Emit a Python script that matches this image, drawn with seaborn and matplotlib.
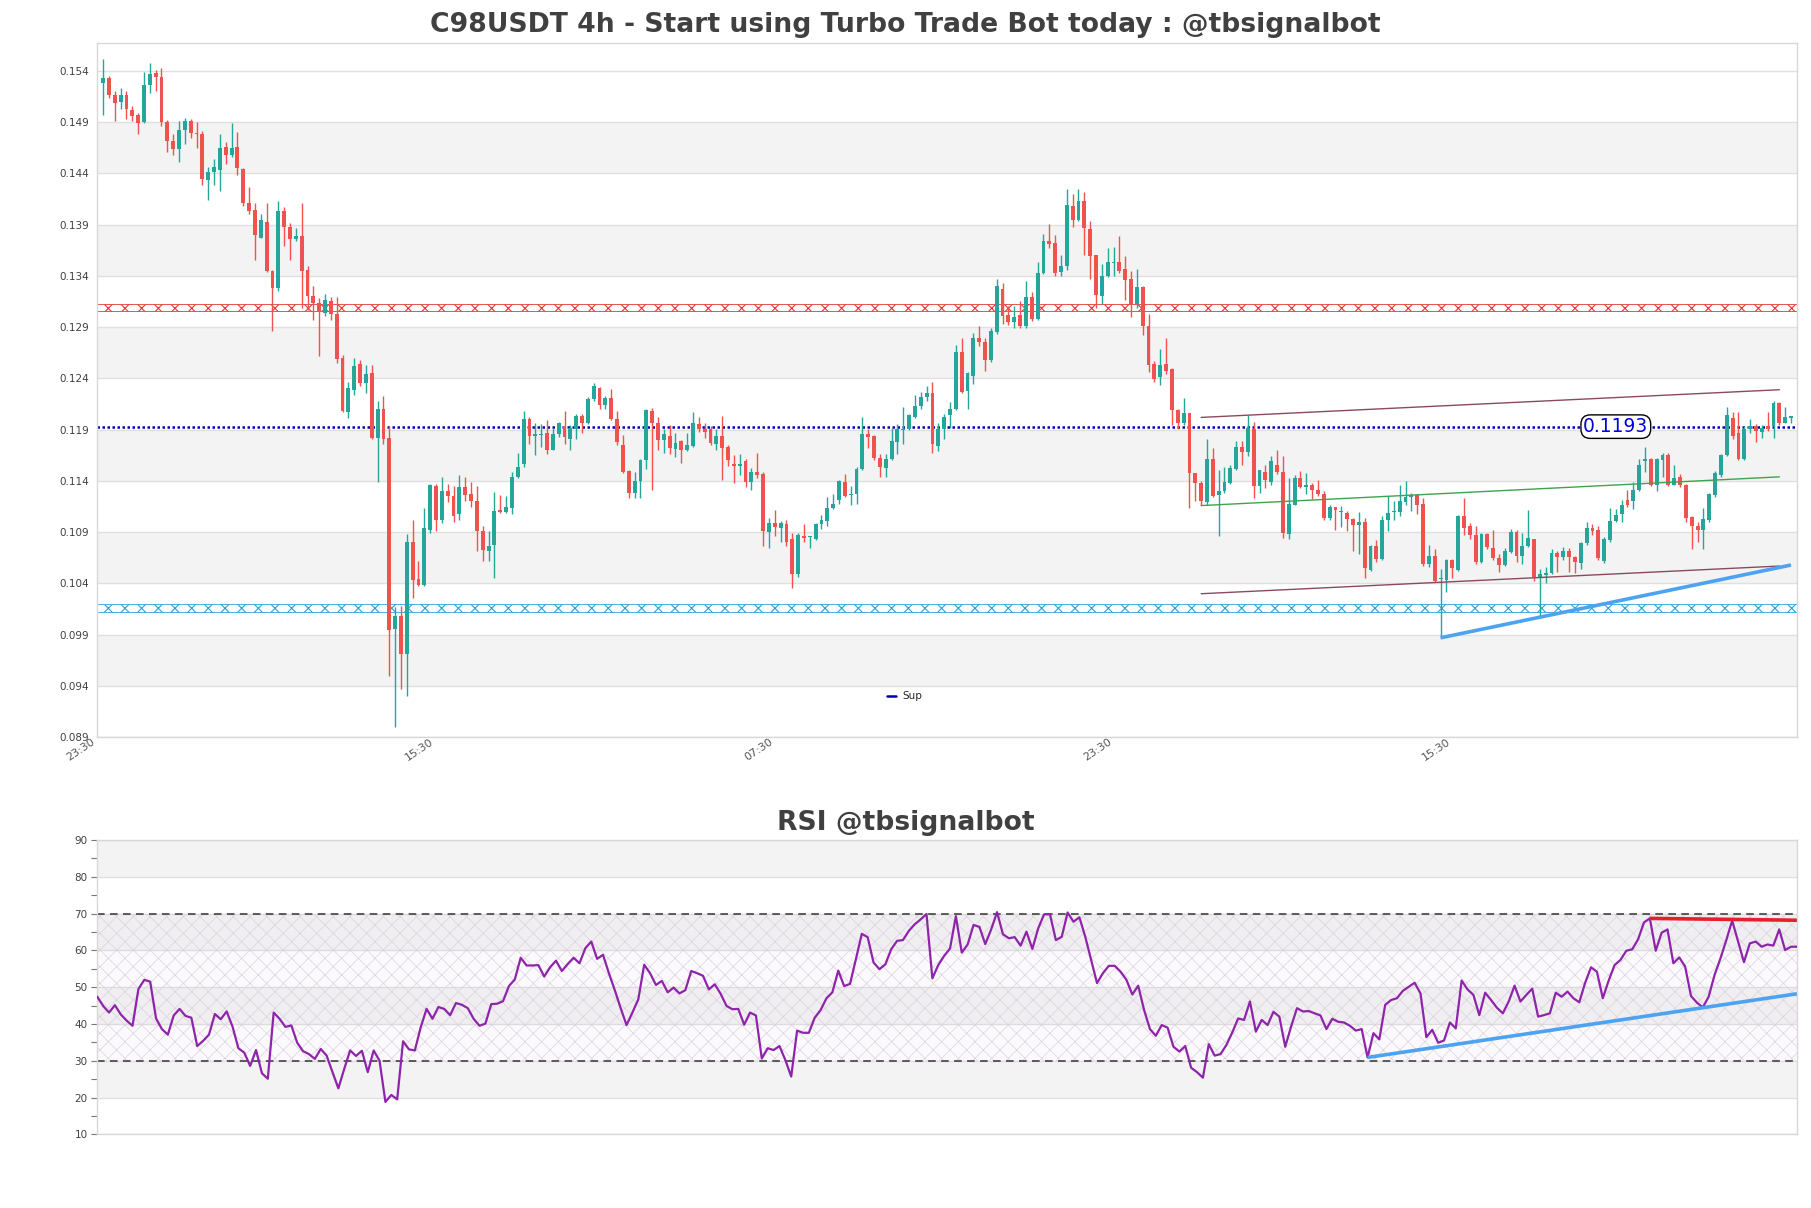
import numpy as np
import pandas as pd
import matplotlib
matplotlib.use("Agg")
import matplotlib.pyplot as plt
import matplotlib.transforms as mtransforms
import seaborn as sns
from matplotlib.lines import Line2D

# ---------------------------------------------------------
# DATA  (candle prices in units of 0.0001 USDT, 4h candles)
# ---------------------------------------------------------
open_e4 = [
    1528, 1533, 1517, 1510, 1517, 1502, 1497, 1490, 1526, 1538,
    1534, 1490, 1472, 1464, 1482, 1491, 1479, 1478, 1434, 1441,
    1443, 1466, 1458, 1466, 1444, 1411, 1404, 1377, 1393, 1345,
    1328, 1403, 1388, 1376, 1379, 1346, 1320, 1314, 1304, 1316,
    1303, 1260, 1207, 1229, 1254, 1236, 1245, 1182, 1210, 1182,
    996, 1008, 971, 1080, 1044, 1039, 1092, 1135, 1102, 1130,
    1125, 1108, 1134, 1127, 1120, 1091, 1072, 1078, 1112, 1110,
    1114, 1144, 1157, 1200, 1184, 1185, 1187, 1170, 1186, 1194,
    1181, 1191, 1203, 1197, 1220, 1231, 1214, 1221, 1200, 1175,
    1150, 1128, 1140, 1160, 1208, 1197, 1180, 1184, 1171, 1179,
    1170, 1174, 1196, 1191, 1191, 1176, 1184, 1173, 1157, 1155,
    1159, 1139, 1149, 1147, 1090, 1099, 1094, 1098, 1083, 1049,
    1086, 1085, 1083, 1098, 1101, 1114, 1121, 1139, 1126, 1127,
    1152, 1186, 1184, 1162, 1153, 1161, 1178, 1190, 1191, 1202,
    1213, 1222, 1226, 1174, 1191, 1204, 1210, 1266, 1228, 1242,
    1279, 1276, 1258, 1285, 1327, 1302, 1295, 1302, 1291, 1319,
    1298, 1343, 1374, 1372, 1344, 1350, 1408, 1395, 1413, 1386,
    1360, 1320, 1340, 1353, 1354, 1347, 1337, 1313, 1329, 1291,
    1254, 1241, 1254, 1249, 1209, 1197, 1206, 1148, 1138, 1119,
    1161, 1126, 1130, 1138, 1152, 1173, 1168, 1191, 1135, 1149,
    1139, 1156, 1149, 1088, 1117, 1143, 1134, 1136, 1131, 1127,
    1104, 1115, 1110, 1109, 1103, 1097, 1100, 1053, 1077, 1064,
    1102, 1110, 1110, 1119, 1124, 1126, 1118, 1059, 1067, 1044,
    1043, 1063, 1053, 1106, 1096, 1087, 1061, 1088, 1075, 1065,
    1058, 1071, 1090, 1067, 1077, 1083, 1046, 1048, 1050, 1070,
    1066, 1072, 1066, 1060, 1079, 1094, 1092, 1062, 1082, 1101,
    1108, 1121, 1120, 1131, 1159, 1161, 1136, 1160, 1165, 1136,
    1144, 1136, 1105, 1096, 1092, 1102, 1126, 1146, 1165, 1201,
    1187, 1161, 1191, 1194, 1188, 1194, 1194, 1216, 1197, 1201,
]
close_e4 = [
    1533, 1517, 1509, 1517, 1503, 1496, 1489, 1526, 1537, 1534,
    1490, 1472, 1464, 1482, 1491, 1479, 1478, 1435, 1441, 1446,
    1465, 1458, 1465, 1445, 1411, 1403, 1380, 1395, 1345, 1328,
    1403, 1388, 1376, 1379, 1345, 1320, 1314, 1306, 1317, 1303,
    1259, 1208, 1231, 1252, 1236, 1244, 1182, 1210, 1181, 995,
    1008, 971, 1080, 1043, 1039, 1094, 1136, 1102, 1130, 1125,
    1106, 1134, 1126, 1120, 1091, 1073, 1077, 1111, 1110, 1115,
    1144, 1154, 1200, 1184, 1186, 1186, 1170, 1186, 1197, 1183,
    1192, 1203, 1197, 1220, 1233, 1214, 1221, 1200, 1178, 1149,
    1128, 1140, 1160, 1209, 1197, 1180, 1186, 1172, 1177, 1170,
    1175, 1197, 1191, 1188, 1177, 1184, 1172, 1160, 1155, 1157,
    1139, 1149, 1146, 1091, 1099, 1095, 1099, 1080, 1049, 1087,
    1084, 1086, 1098, 1102, 1114, 1118, 1140, 1125, 1127, 1152,
    1186, 1183, 1162, 1154, 1161, 1179, 1191, 1191, 1204, 1213,
    1222, 1226, 1176, 1191, 1202, 1210, 1266, 1227, 1245, 1279,
    1276, 1258, 1286, 1330, 1301, 1295, 1300, 1291, 1319, 1298,
    1343, 1374, 1371, 1343, 1350, 1409, 1395, 1413, 1387, 1359,
    1321, 1340, 1354, 1354, 1345, 1336, 1313, 1329, 1291, 1253,
    1239, 1253, 1247, 1209, 1197, 1206, 1148, 1138, 1120, 1161,
    1125, 1130, 1139, 1153, 1173, 1168, 1192, 1135, 1151, 1141,
    1159, 1149, 1089, 1118, 1143, 1134, 1136, 1131, 1127, 1104,
    1115, 1112, 1111, 1103, 1097, 1100, 1055, 1077, 1064, 1102,
    1109, 1111, 1120, 1124, 1126, 1117, 1059, 1067, 1042, 1045,
    1063, 1055, 1106, 1094, 1087, 1061, 1088, 1076, 1065, 1058,
    1072, 1090, 1067, 1077, 1084, 1046, 1049, 1050, 1070, 1066,
    1072, 1066, 1061, 1079, 1094, 1091, 1065, 1083, 1101, 1107,
    1117, 1117, 1131, 1156, 1161, 1136, 1161, 1165, 1136, 1143,
    1136, 1104, 1096, 1092, 1103, 1127, 1148, 1165, 1204, 1184,
    1161, 1191, 1194, 1189, 1192, 1191, 1216, 1197, 1202, 1203,
]
high_e4 = [
    1552, 1535, 1520, 1523, 1520, 1506, 1499, 1539, 1548, 1541,
    1543, 1492, 1478, 1491, 1494, 1493, 1490, 1481, 1446, 1454,
    1478, 1471, 1489, 1480, 1445, 1427, 1411, 1400, 1411, 1346,
    1413, 1407, 1392, 1387, 1411, 1350, 1330, 1318, 1322, 1319,
    1319, 1263, 1237, 1260, 1258, 1253, 1253, 1218, 1223, 1194,
    1017, 1018, 1088, 1102, 1062, 1114, 1137, 1137, 1144, 1137,
    1135, 1146, 1144, 1139, 1135, 1096, 1091, 1129, 1126, 1125,
    1149, 1167, 1208, 1202, 1197, 1196, 1199, 1192, 1198, 1208,
    1195, 1205, 1205, 1222, 1236, 1232, 1223, 1230, 1208, 1185,
    1151, 1149, 1161, 1210, 1211, 1202, 1191, 1195, 1187, 1180,
    1187, 1207, 1202, 1197, 1194, 1191, 1203, 1175, 1165, 1166,
    1161, 1153, 1167, 1149, 1104, 1112, 1101, 1102, 1089, 1089,
    1098, 1086, 1099, 1107, 1124, 1127, 1141, 1147, 1135, 1154,
    1202, 1191, 1185, 1166, 1166, 1192, 1196, 1212, 1205, 1224,
    1227, 1233, 1237, 1197, 1205, 1217, 1273, 1279, 1246, 1284,
    1291, 1279, 1289, 1337, 1333, 1311, 1311, 1316, 1335, 1324,
    1354, 1381, 1391, 1380, 1360, 1425, 1420, 1425, 1422, 1394,
    1360, 1352, 1367, 1368, 1379, 1359, 1345, 1347, 1330, 1303,
    1257, 1269, 1279, 1250, 1210, 1221, 1206, 1148, 1140, 1181,
    1172, 1151, 1154, 1156, 1179, 1179, 1204, 1198, 1151, 1156,
    1164, 1170, 1164, 1143, 1146, 1150, 1148, 1138, 1141, 1130,
    1117, 1115, 1116, 1111, 1104, 1110, 1104, 1078, 1082, 1106,
    1125, 1120, 1136, 1140, 1128, 1127, 1123, 1078, 1074, 1054,
    1064, 1064, 1107, 1123, 1099, 1096, 1089, 1089, 1092, 1069,
    1075, 1093, 1092, 1089, 1112, 1083, 1054, 1056, 1074, 1072,
    1076, 1075, 1067, 1080, 1100, 1098, 1096, 1085, 1114, 1113,
    1121, 1131, 1139, 1161, 1173, 1162, 1162, 1167, 1167, 1156,
    1147, 1137, 1106, 1100, 1114, 1128, 1150, 1166, 1212, 1207,
    1207, 1194, 1200, 1196, 1195, 1207, 1218, 1217, 1212, 1203,
]
low_e4 = [
    1497, 1514, 1491, 1503, 1493, 1491, 1478, 1489, 1518, 1520,
    1486, 1461, 1458, 1451, 1469, 1475, 1465, 1429, 1414, 1429,
    1423, 1449, 1456, 1438, 1408, 1400, 1356, 1377, 1344, 1286,
    1325, 1369, 1356, 1374, 1309, 1307, 1297, 1262, 1301, 1297,
    1255, 1207, 1201, 1224, 1233, 1226, 1181, 1139, 1176, 950,
    900, 937, 930, 1026, 1038, 1038, 1089, 1091, 1099, 1119,
    1100, 1102, 1120, 1115, 1072, 1062, 1062, 1045, 1109, 1109,
    1108, 1143, 1154, 1176, 1165, 1173, 1166, 1170, 1183, 1176,
    1170, 1181, 1187, 1196, 1218, 1210, 1210, 1199, 1175, 1148,
    1123, 1123, 1123, 1152, 1131, 1170, 1167, 1166, 1163, 1158,
    1169, 1173, 1188, 1182, 1175, 1170, 1141, 1155, 1138, 1146,
    1134, 1131, 1143, 1077, 1075, 1086, 1080, 1077, 1036, 1046,
    1080, 1075, 1082, 1093, 1096, 1113, 1118, 1124, 1117, 1118,
    1151, 1172, 1160, 1144, 1144, 1160, 1166, 1176, 1190, 1201,
    1210, 1218, 1167, 1169, 1181, 1192, 1209, 1226, 1210, 1235,
    1272, 1247, 1256, 1283, 1293, 1292, 1289, 1289, 1289, 1296,
    1297, 1342, 1367, 1340, 1340, 1346, 1388, 1394, 1360, 1337,
    1309, 1313, 1339, 1340, 1343, 1317, 1300, 1309, 1282, 1246,
    1237, 1234, 1244, 1195, 1191, 1195, 1114, 1120, 1117, 1117,
    1124, 1086, 1128, 1137, 1151, 1156, 1164, 1123, 1128, 1133,
    1136, 1147, 1084, 1083, 1117, 1133, 1127, 1122, 1125, 1102,
    1102, 1092, 1095, 1091, 1072, 1069, 1045, 1052, 1061, 1063,
    1091, 1102, 1106, 1117, 1111, 1108, 1057, 1056, 1041, 987,
    1032, 1045, 1052, 1087, 1083, 1059, 1060, 1074, 1063, 1051,
    1057, 1070, 1061, 1059, 1076, 1042, 1007, 1040, 1049, 1051,
    1063, 1051, 1050, 1054, 1078, 1087, 1063, 1060, 1080, 1100,
    1100, 1115, 1113, 1130, 1149, 1135, 1130, 1144, 1135, 1136,
    1134, 1100, 1074, 1080, 1074, 1100, 1124, 1144, 1164, 1181,
    1160, 1160, 1187, 1178, 1182, 1189, 1182, 1195, 1197, 1197,
]

rsi_vals = [
    47.4, 44.9, 43.1, 45.1, 42.6, 40.9, 39.5, 49.5, 52.0, 51.5,
    41.5, 38.6, 37.1, 42.3, 44.1, 42.2, 41.7, 34.0, 35.4, 37.1,
    42.7, 41.3, 43.4, 39.3, 33.4, 32.2, 28.6, 32.9, 26.6, 25.1,
    43.1, 41.4, 39.2, 39.6, 34.9, 32.6, 31.8, 30.5, 33.2, 31.4,
    26.9, 22.5, 27.8, 32.8, 31.3, 32.7, 26.9, 32.8, 30.0, 18.8,
    20.7, 19.5, 35.3, 33.1, 32.8, 39.1, 44.1, 41.4, 44.6, 44.1,
    42.4, 45.7, 45.2, 44.3, 41.4, 39.5, 40.1, 45.4, 45.5, 46.2,
    50.3, 52.1, 58.0, 55.9, 55.9, 56.0, 52.9, 55.4, 57.2, 54.4,
    56.3, 58.0, 56.5, 60.6, 62.4, 57.7, 58.8, 53.8, 49.2, 44.3,
    39.7, 43.1, 46.7, 56.1, 53.8, 50.6, 51.7, 48.6, 49.9, 48.3,
    49.2, 54.4, 53.8, 53.1, 49.4, 50.8, 48.2, 44.9, 44.0, 44.1,
    39.8, 43.1, 42.3, 30.6, 33.4, 32.9, 34.0, 30.2, 25.7, 38.2,
    37.6, 37.6, 41.7, 43.8, 47.0, 48.6, 54.5, 50.3, 50.9, 57.6,
    64.5, 63.6, 56.7, 54.9, 56.2, 60.3, 62.6, 62.8, 65.3, 67.1,
    68.4, 69.9, 52.4, 56.0, 58.5, 60.5, 69.3, 59.4, 61.6, 66.9,
    66.4, 61.7, 65.7, 70.4, 64.4, 63.3, 63.6, 61.3, 65.1, 60.4,
    66.0, 69.8, 69.8, 62.8, 63.7, 70.3, 67.8, 69.0, 63.7, 57.4,
    51.1, 53.8, 55.8, 55.8, 54.2, 52.0, 48.0, 50.4, 43.8, 38.6,
    36.8, 39.7, 39.0, 33.8, 32.5, 34.0, 28.1, 26.9, 25.4, 34.5,
    31.4, 31.8, 34.3, 37.7, 41.5, 41.1, 46.1, 37.9, 41.1, 39.7,
    43.3, 42.0, 33.8, 39.3, 44.3, 43.4, 43.5, 42.9, 42.3, 38.6,
    41.4, 40.6, 40.4, 39.5, 38.2, 38.6, 30.9, 37.5, 35.8, 45.2,
    46.5, 47.0, 49.0, 50.1, 51.2, 48.3, 36.4, 38.4, 34.9, 35.5,
    40.4, 38.8, 51.8, 49.4, 47.9, 42.4, 48.5, 46.5, 44.4, 42.9,
    46.1, 50.4, 46.1, 47.9, 49.6, 42.0, 42.4, 42.9, 48.5, 47.4,
    48.8, 47.0, 45.9, 51.2, 55.4, 54.2, 47.0, 51.8, 56.0, 57.4,
    59.9, 60.3, 63.0, 67.6, 68.7, 59.9, 64.8, 65.7, 56.5, 58.1,
    55.6, 47.6, 45.8, 44.5, 47.4, 53.3, 57.8, 62.8, 68.1, 62.4,
    56.8, 61.9, 62.4, 61.0, 61.6, 61.3, 65.7, 60.1, 61.0, 61.0,
]

tick_pos = [-1, 57, 115, 173, 231]
tick_labels = ["23:30", "15:30", "07:30", "23:30", "15:30"]

sup_level = 0.1193
res_band = [0.13055, 0.13125]
sup_band = [0.10125, 0.10195]

# trend / channel lines: (candle index pair, value pair)
chan_upper = ([188, 287], [0.1202, 0.1229])
chan_mid = ([188, 287], [0.1116, 0.1144])
chan_lower = ([188, 287], [0.1030, 0.1057])
price_trend = ([229, 289], [0.0987, 0.1058])
rsi_up = ([216, 289], [30.9, 48.2])
rsi_down = ([264, 289], [68.7, 68.2])

# ---------------------------------------------------------
# FRAME
# ---------------------------------------------------------
df = pd.DataFrame({
    "open": np.array(open_e4) / 1e4,
    "close": np.array(close_e4) / 1e4,
    "high": np.array(high_e4) / 1e4,
    "low": np.array(low_e4) / 1e4,
})
df["x"] = np.arange(len(df))
df["rsi"] = rsi_vals

sns.set_theme(style="white")
plt.rcParams["font.family"] = ["DejaVu Sans"]
plt.rcParams["hatch.linewidth"] = 0.8

fig = plt.figure(figsize=(18.11, 12.08), dpi=100)
ax = fig.add_axes([0.0537, 0.3897, 0.9385, 0.5745])
ax2 = fig.add_axes([0.0537, 0.0610, 0.9385, 0.2436])

grid_c = "#e0e0e0"
band_c = "#f3f3f3"
spine_c = "#d8d8d8"
txt_c = "#404040"

# ---------------------------------------------------------
# PRICE PANEL
# ---------------------------------------------------------
yt = np.round(np.arange(0.089, 0.1545, 0.005), 3)
for k in range(1, len(yt) - 1, 2):
    ax.axhspan(yt[k], yt[k + 1], color=band_c, zorder=0, lw=0)
for t in yt:
    ax.axhline(t, color=grid_c, lw=1, zorder=0.5)

up = df["close"] >= df["open"]
cols = np.where(up, "#26a69a", "#ef5350")
ax.vlines(df["x"], df["low"], df["high"], colors=cols, lw=1, zorder=3)
body = (df["close"] - df["open"]).abs().clip(lower=0.00008)
ax.bar(df["x"], body, bottom=np.minimum(df["open"], df["close"]),
       width=0.66, color=cols, lw=0, zorder=4)

# resistance / support zones
ax.axhspan(res_band[0], res_band[1], facecolor="none", edgecolor="#e53935",
           hatch="xx", lw=0.6, zorder=2)
ax.axhspan(sup_band[0], sup_band[1], facecolor="none", edgecolor="#29a3dd",
           hatch="xx", lw=0.6, zorder=2)

ax.axhline(sup_level, color="#0000b4", ls=(0, (1, 1)), lw=1.8, zorder=2)
ax.text(259, sup_level, f"{sup_level:.4f}", color="#0000e0", fontsize=13.5,
        ha="center", va="center", zorder=6,
        bbox=dict(boxstyle="round,pad=0.12,rounding_size=0.5", fc="white", ec="black", lw=1))

ax.plot(*chan_upper, color="#8b4a5c", lw=1, zorder=5)
ax.plot(*chan_lower, color="#8b4a5c", lw=1, zorder=5)
ax.plot(*chan_mid, color="#3fa34d", lw=1, zorder=5)
ax.plot(*price_trend, color="#4da3f0", lw=2.6, zorder=5, solid_capstyle="butt")

ax.legend(handles=[Line2D([0], [0], color="#0000b4", lw=1.8)], labels=["Sup"],
          loc="center", bbox_to_anchor=(0.475, 0.059), frameon=False,
          fontsize=7.5, handlelength=0.9, handletextpad=0.6)

ax.set_xlim(-1, len(df))
ax.set_ylim(0.089, 0.1567)
ax.set_yticks(yt)
ax.set_yticklabels([f"{t:.3f}" for t in yt])
ax.set_xticks(tick_pos)
ax.set_xticklabels(tick_labels, rotation=34, ha="right", rotation_mode="anchor")
ax.tick_params(axis="y", length=0, labelsize=7.5, labelcolor=txt_c, pad=6)
ax.tick_params(axis="x", length=0, labelsize=8, labelcolor="#555555", pad=1)
shift = mtransforms.ScaledTranslation(-6 / 100, 2 / 100, fig.dpi_scale_trans)
for lab in ax.get_xticklabels():
    lab.set_transform(lab.get_transform() + shift)
for s in ax.spines.values():
    s.set_color(spine_c)
    s.set_linewidth(1)

# ---------------------------------------------------------
# RSI PANEL
# ---------------------------------------------------------
rt = np.arange(10, 91, 10)
for k in range(1, len(rt) - 1, 2):
    ax2.axhspan(rt[k], rt[k + 1], color=band_c, zorder=0, lw=0)
for t in rt:
    ax2.axhline(t, color=grid_c, lw=1, zorder=0.5)

plt.rcParams["hatch.linewidth"] = 0.5
ax2.fill_between([0, len(df) - 1], 30, 70, facecolor="#8e24aa", alpha=0.025, lw=0, zorder=1)
ax2.fill_between([0, len(df) - 1], 30, 70, facecolor="none", edgecolor="#d9d3df",
                 hatch="xx", lw=0, zorder=1)
ax2.axhline(70, color="#333333", ls=(0, (5, 3.5)), lw=1.1, zorder=2)
ax2.axhline(30, color="#333333", ls=(0, (5, 3.5)), lw=1.1, zorder=2)

sns.lineplot(data=df, x="x", y="rsi", color="#8e24aa", lw=1.6, ax=ax2, zorder=4)
ax2.plot(*rsi_up, color="#4da3f0", lw=2.6, zorder=5, solid_capstyle="butt")
ax2.plot(*rsi_down, color="#e5202a", lw=2.6, zorder=5, solid_capstyle="butt")

ax2.set_xlim(0, len(df) - 1)
ax2.set_ylim(10, 90)
ax2.set_yticks(rt)
ax2.set_yticks(np.arange(15, 90, 10), minor=True)
ax2.set_xticks([])
ax2.set_xlabel("")
ax2.set_ylabel("")
ax2.tick_params(axis="y", which="both", left=True, length=4, width=0.8,
                color="#777777", labelsize=7.5, labelcolor=txt_c, pad=3)
for s in ax2.spines.values():
    s.set_color(spine_c)
    s.set_linewidth(1)

fig.text(0.5, 0.979, "C98USDT 4h - Start using Turbo Trade Bot today : @tbsignalbot",
         ha="center", va="center", fontsize=19.2, fontweight="bold", color=txt_c)
fig.text(0.5, 0.319, "RSI @tbsignalbot", ha="center", va="center",
         fontsize=19.2, fontweight="bold", color=txt_c)

fig.savefig("out.png", dpi=100)
